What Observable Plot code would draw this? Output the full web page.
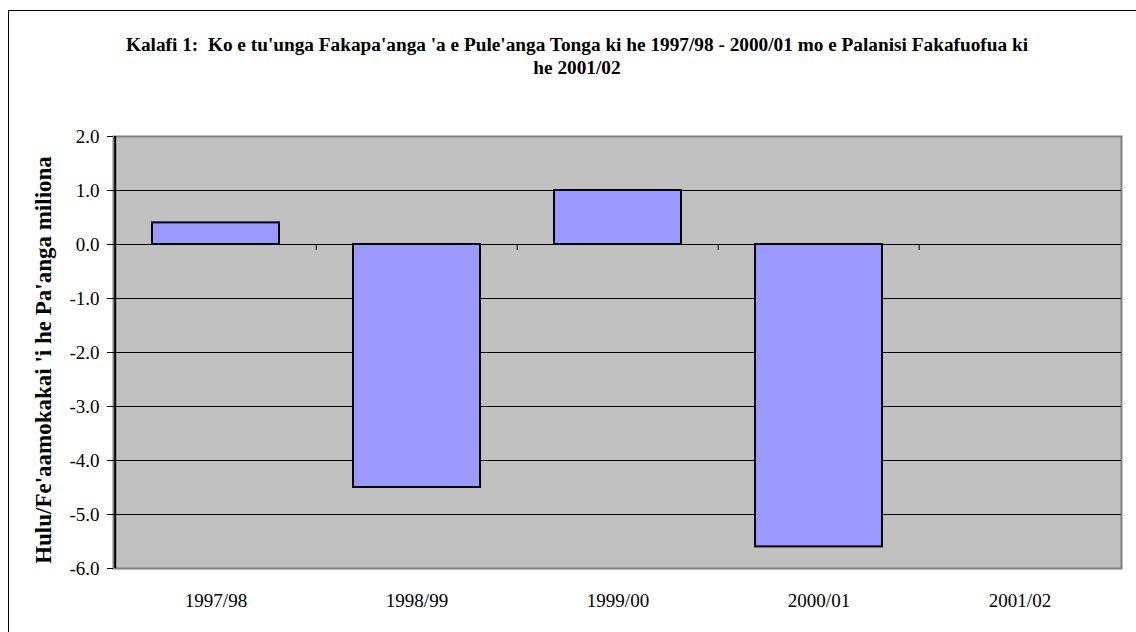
<!DOCTYPE html>
<html>
<head>
<meta charset="utf-8">
<script src="https://cdn.jsdelivr.net/npm/d3@7"></script>
<script src="https://cdn.jsdelivr.net/npm/@observablehq/plot@0.6"></script>
<style>
  html, body { margin: 0; padding: 0; background: #fff; }
  #wrap { position: relative; width: 1136px; height: 632px; overflow: hidden; font-family: "Liberation Serif", "Times New Roman", "DejaVu Serif", serif; }
  #border { position: absolute; left: 8px; top: 10px; width: 1200px; height: 700px; border: 1.5px solid #000; box-sizing: border-box; }
  #title { position: absolute; left: 77px; width: 1000px; top: 33px; text-align: center; font-weight: bold; font-size: 19.3px; line-height: 23px; color: #000; }
  #ylabel { position: absolute; left: 44px; top: 360px; transform: translate(-50%, -50%) rotate(-90deg); white-space: nowrap; font-weight: bold; font-size: 23px; color: #000; }
  #chart { position: absolute; left: 0; top: 0; }
  #chart svg text { font-family: "Liberation Serif", "Times New Roman", "DejaVu Serif", serif; }
</style>
</head>
<body>
<div id="wrap">
  <div id="border"></div>
  <div id="chart"></div>
  <div id="title">Kalafi 1:&nbsp; Ko e tu'unga Fakapa'anga 'a e Pule'anga Tonga ki he 1997/98 - 2000/01 mo e Palanisi Fakafuofua ki<br>he 2001/02</div>
  <div id="ylabel">Hulu/Fe'aamokakai 'i he Pa'anga miliona</div>
</div>
<script>
const categories = ["1997/98", "1998/99", "1999/00", "2000/01", "2001/02"];
const values = [0.4, -4.5, 1.0, -5.6, null];
const yTicks = [-6, -5, -4, -3, -2, -1, 0, 1, 2];

const data = categories.map((c, i) => ({cat: c, v: values[i]})).filter(d => d.v != null);

const serif = '"Liberation Serif", "Times New Roman", "DejaVu Serif", serif';
const W = 1136, H = 632, mL = 113, mR = 15, mT = 136, mB = 64;
const step = (W - mL - mR) / categories.length;

const chart = Plot.plot({
  width: W,
  height: H,
  marginLeft: mL,
  marginRight: mR,
  marginTop: mT,
  marginBottom: mB,
  style: {fontFamily: serif, fontSize: "19px", background: "transparent", color: "#000", overflow: "visible"},
  x: {type: "band", domain: categories, paddingInner: 0.37, paddingOuter: 0.185, label: null},
  y: {domain: [-6, 2], label: null},
  marks: [
    Plot.frame({fill: "#c0c0c0", stroke: "#808080", strokeWidth: 2}),
    Plot.ruleY(yTicks.filter(t => t > -6 && t < 2), {stroke: "#000", strokeWidth: 1}),
    Plot.ruleX([categories[0]], {x: d => d, dx: -step / 2, y1: -6, y2: 2, stroke: "#000", strokeWidth: 2}),
    Plot.ruleX(categories.slice(1), {x: d => d, dx: -step / 2, y1: 0, y2: -0.11, stroke: "#000", strokeWidth: 1}),
    Plot.barY(data, {x: "cat", y: "v", fill: "#9999ff", stroke: "#000", strokeWidth: 2}),
    Plot.axisY({ticks: yTicks, tickFormat: d => d.toFixed(1), tickSize: 6, tickPadding: 8, fontSize: 19, fontFamily: serif, label: null}),
    Plot.axisX({tickSize: 0, tickPadding: 25, fontSize: 19, fontFamily: serif, label: null})
  ]
});
document.getElementById("chart").appendChild(chart);
</script>
</body>
</html>
